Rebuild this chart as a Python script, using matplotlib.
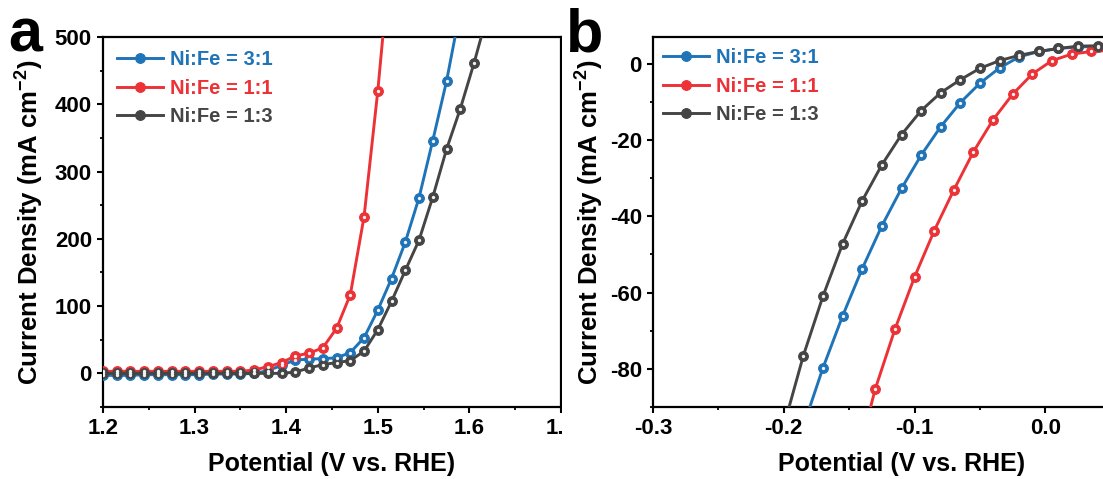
import matplotlib
matplotlib.use("Agg")
import matplotlib.pyplot as plt
from matplotlib.patches import Rectangle
from matplotlib.ticker import AutoMinorLocator, MultipleLocator

# ---- data: panel a (OER) ----
pot_a = [1.200, 1.215, 1.230, 1.245, 1.260, 1.275, 1.290, 1.305, 1.320, 1.335,
         1.350, 1.365, 1.380, 1.395, 1.410, 1.425, 1.440, 1.455, 1.470, 1.485,
         1.500, 1.515, 1.530, 1.545, 1.560, 1.575, 1.590, 1.605, 1.620]
j_a_31 = [-3, -3, -3, -2, -2, -2, -2, -2, -1, -1,
          -1, 0, 4, 12, 20, 21, 22, 23, 31, 53,
          94, 141, 195, 261, 346, 434, 540, 640, 740]
j_a_11 = [3, 3, 3, 3, 3, 3, 3, 3, 3, 3,
          3, 5, 10, 16, 26, 30, 38, 67, 117, 233,
          420, 640, 860, 1000, 1100, 1200, 1300, 1400, 1500]
j_a_13 = [0, 0, 0, 0, 0, 0, 0, 0, 0, 0,
          0, 0, 0, 0, 2, 8, 13, 16, 19, 33,
          65, 107, 153, 198, 262, 333, 393, 461, 535]

# ---- data: panel b (HER) ----
pot_b_31 = [-0.185, -0.170, -0.155, -0.140, -0.125, -0.110, -0.095, -0.080,
            -0.065, -0.050, -0.035, -0.020, -0.005, 0.010, 0.025, 0.040, 0.055]
j_b_31 = [-95, -79.7, -66.1, -53.7, -42.5, -32.7, -24.0, -16.5,
          -10.2, -5.1, -1.1, 1.8, 3.2, 4.0, 4.4, 4.5, 4.5]
pot_b_11 = [-0.145, -0.130, -0.115, -0.100, -0.085, -0.070, -0.055, -0.040,
            -0.025, -0.010, 0.005, 0.020, 0.035, 0.050]
j_b_11 = [-105, -85.2, -69.6, -55.9, -43.8, -33.1, -23.1, -14.7,
          -8.0, -2.7, 0.8, 2.5, 3.2, 3.5]
pot_b_13 = [-0.200, -0.185, -0.170, -0.155, -0.140, -0.125, -0.110, -0.095,
            -0.080, -0.065, -0.050, -0.035, -0.020, -0.005, 0.010, 0.025, 0.040, 0.055]
j_b_13 = [-95, -76.5, -60.9, -47.2, -35.9, -26.5, -18.6, -12.3,
          -7.6, -4.2, -1.2, 0.8, 2.2, 3.2, 4.0, 4.6, 4.7, 4.7]

labels = ["Ni:Fe = 3:1", "Ni:Fe = 1:1", "Ni:Fe = 1:3"]
colors = ["#1f74b8", "#ec3237", "#454545"]

plt.rcParams["font.family"] = ["Liberation Sans", "DejaVu Sans"]
plt.rcParams["font.weight"] = "bold"
plt.rcParams["axes.labelweight"] = "bold"
plt.rcParams["axes.unicode_minus"] = False
plt.rcParams["mathtext.fontset"] = "custom"
plt.rcParams["mathtext.rm"] = "Liberation Sans:bold"
plt.rcParams["mathtext.bf"] = "Liberation Sans:bold"
plt.rcParams["mathtext.default"] = "bf"

W, H = 1103, 479
fig = plt.figure(figsize=(W / 100, H / 100), dpi=100)

YLAB = "Current Density (mA cm$^{-2}$)"
XLAB = "Potential (V vs. RHE)"


def px_axes(l, t, r, b):
    return fig.add_axes([l / W, 1 - b / H, (r - l) / W, (b - t) / H])


def draw(ax, x, y, c, lab):
    ax.plot(x, y, "-", color=c, lw=2.1, marker="o", ms=7.0, mfc=c, mec=c,
            mew=0.8, label=lab, zorder=3)
    ax.plot(x, y, "none", marker="o", ms=2.4, mfc="#f2f2f2", mec="none", zorder=4)


def style(ax):
    for s in ax.spines.values():
        s.set_linewidth(1.6)
    ax.xaxis.set_minor_locator(AutoMinorLocator(2))
    ax.yaxis.set_minor_locator(AutoMinorLocator(2))
    ax.tick_params(which="major", direction="out", length=4, width=1.5,
                   labelsize=16, pad=4)
    ax.tick_params(which="minor", direction="out", length=2.5, width=1.3)
    ax.tick_params(top=False, right=False)
    for t in ax.get_xticklabels() + ax.get_yticklabels():
        t.set_fontweight("bold")


def legend(ax, x0, y0):
    leg = ax.legend(loc="upper left", bbox_to_anchor=(x0, y0), frameon=False,
                    fontsize=14.5, handlelength=2.3, handletextpad=0.35,
                    labelspacing=0.48, borderaxespad=0, borderpad=0)
    for t, c in zip(leg.get_texts(), colors):
        t.set_color(c)
        t.set_fontweight("bold")


# panel a
ax_a = px_axes(103, 37, 561, 407)
ax_a.set_zorder(0)
draw(ax_a, pot_a, j_a_31, colors[0], labels[0])
draw(ax_a, pot_a, j_a_11, colors[1], labels[1])
draw(ax_a, pot_a, j_a_13, colors[2], labels[2])
ax_a.set_xlim(1.2, 1.7)
ax_a.set_ylim(-50, 500)
ax_a.xaxis.set_major_locator(MultipleLocator(0.1))
ax_a.yaxis.set_major_locator(MultipleLocator(100))
ax_a.set_xlabel(XLAB, fontsize=18, labelpad=9)
ax_a.set_ylabel(YLAB, fontsize=18.5, labelpad=6)
style(ax_a)
legend(ax_a, 0.03, 0.965)

# white cover hiding the right part of panel a
fig.add_artist(Rectangle((562 / W, 0), 1, 1, transform=fig.transFigure,
                         facecolor="white", edgecolor="none", zorder=1))

# panel b
ax_b = px_axes(653, 37, 1150, 407)
ax_b.set_zorder(2)
draw(ax_b, pot_b_31, j_b_31, colors[0], labels[0])
draw(ax_b, pot_b_11, j_b_11, colors[1], labels[1])
draw(ax_b, pot_b_13, j_b_13, colors[2], labels[2])
ax_b.set_xlim(-0.3, 0.08)
ax_b.set_ylim(-90, 7)
ax_b.xaxis.set_major_locator(MultipleLocator(0.1))
ax_b.yaxis.set_major_locator(MultipleLocator(20))
ax_b.set_xlabel(XLAB, fontsize=18, labelpad=9)
ax_b.set_ylabel(YLAB, fontsize=18.5, labelpad=3)
ax_b.spines["right"].set_visible(False)
style(ax_b)
legend(ax_b, 0.02, 0.97)

fig.text(8 / W, 1 - 52 / H, "a", fontsize=44, fontweight="bold", zorder=5)
fig.text(566 / W, 1 - 52 / H, "b", fontsize=44, fontweight="bold", zorder=5)

fig.savefig("out.png", dpi=100)
